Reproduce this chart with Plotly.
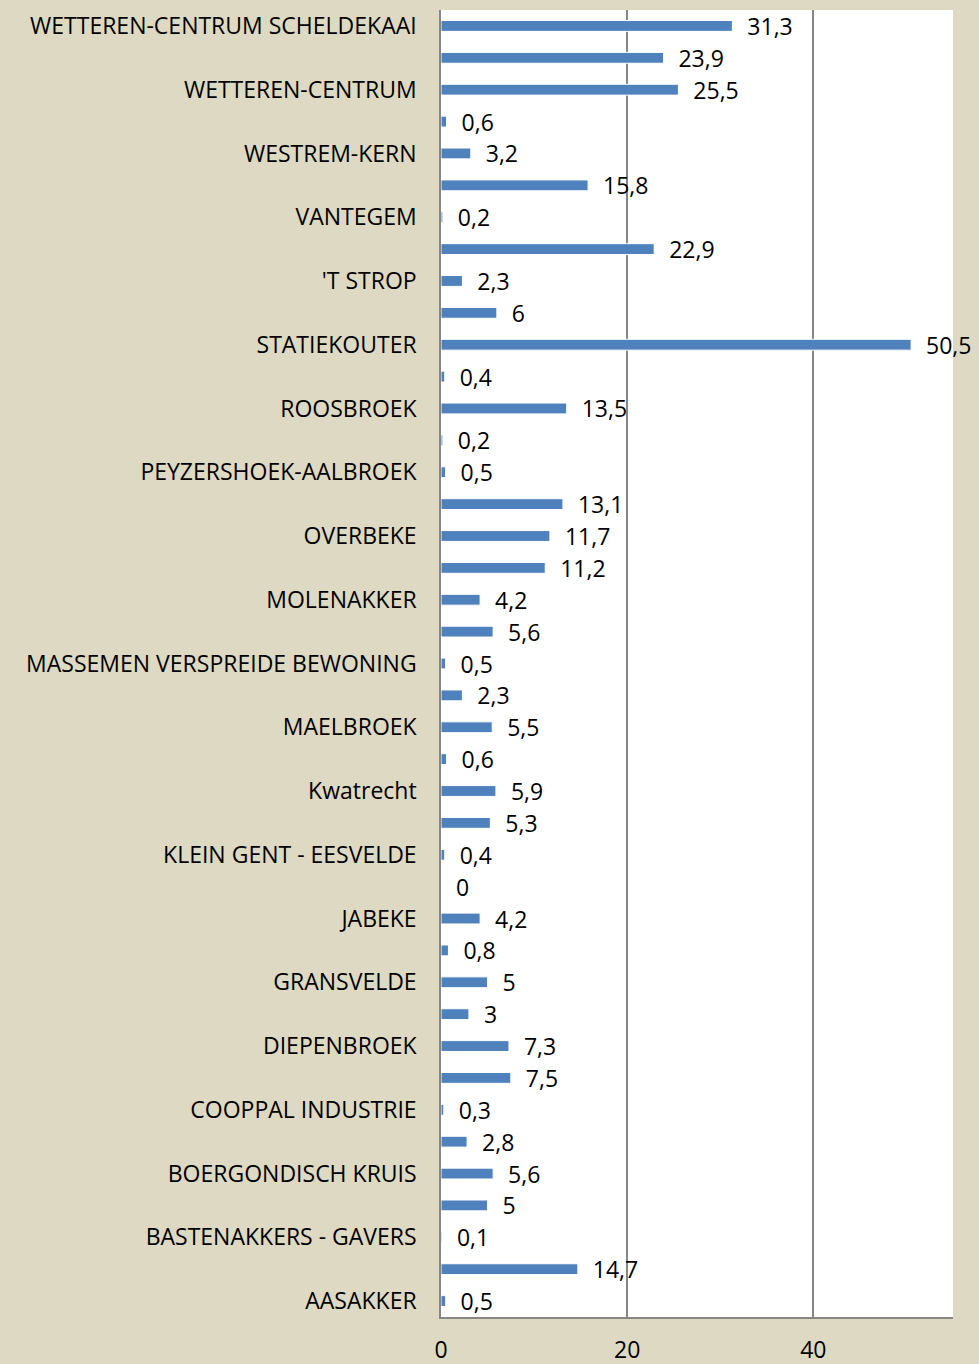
import plotly.graph_objects as go

# values listed from top bar to bottom bar
values_top_down = [31.3, 23.9, 25.5, 0.6, 3.2, 15.8, 0.2, 22.9, 2.3, 6, 50.5, 0.4, 13.5,
                   0.2, 0.5, 13.1, 11.7, 11.2, 4.2, 5.6, 0.5, 2.3, 5.5, 0.6, 5.9, 5.3,
                   0.4, 0, 4.2, 0.8, 5, 3, 7.3, 7.5, 0.3, 2.8, 5.6, 5, 0.1, 14.7, 0.5]

# labels shown on every other category, from bottom to top
shown_labels = ["AASAKKER", "BASTENAKKERS - GAVERS", "BOERGONDISCH KRUIS", "COOPPAL INDUSTRIE",
                "DIEPENBROEK", "GRANSVELDE", "JABEKE", "KLEIN GENT - EESVELDE", "Kwatrecht",
                "MAELBROEK", "MASSEMEN VERSPREIDE BEWONING", "MOLENAKKER", "OVERBEKE",
                "PEYZERSHOEK-AALBROEK", "ROOSBROEK", "STATIEKOUTER", "'T STROP", "VANTEGEM",
                "WESTREM-KERN", "WETTEREN-CENTRUM", "WETTEREN-CENTRUM SCHELDEKAAI"]

x_ticks = [0, 20, 40]

values = values_top_down[::-1]  # bottom to top
n = len(values)
ypos = list(range(n))
tickvals = list(range(0, n, 2))


def fmt(v):
    s = ("%g" % v).replace(".", ",")
    return "\u00a0\u00a0" + s


FONT = "Open Sans"
FS = 23

fig = go.Figure()
fig.add_trace(go.Bar(
    x=values, y=ypos, orientation="h",
    marker=dict(color="#4F81BD", line=dict(color="white", width=1)),
    width=0.34,
    text=[fmt(v) for v in values],
    textposition="outside",
    constraintext="none",
    textfont=dict(family=FONT, size=FS, color="black"),
    cliponaxis=False,
    hoverinfo="skip",
))

fig.update_layout(
    width=979, height=1364,
    paper_bgcolor="#DDD9C3",
    plot_bgcolor="white",
    margin=dict(l=441, r=26, t=10, b=47, autoexpand=False),
    showlegend=False,
    font=dict(family=FONT, size=FS, color="black"),
)
fig.update_xaxes(
    range=[0, 55], tickvals=x_ticks, ticktext=[str(t) for t in x_ticks],
    showgrid=True, gridcolor="#868686", gridwidth=1.5,
    showline=True, linecolor="#868686", linewidth=1.5,
    zeroline=False, ticks="", ticklabelstandoff=12, automargin=False,
    tickfont=dict(family=FONT, size=FS, color="black"),
)
fig.update_yaxes(
    range=[-0.5, n - 0.5], tickvals=tickvals, ticktext=shown_labels,
    showgrid=False, showline=True, linecolor="#868686", linewidth=1.5,
    zeroline=False, ticks="", ticklabelstandoff=18, automargin=False,
    tickfont=dict(family=FONT, size=FS, color="black"),
)

fig.write_html("out.html", config={"displayModeBar": False},
               post_script="document.body.style.margin='0';")
